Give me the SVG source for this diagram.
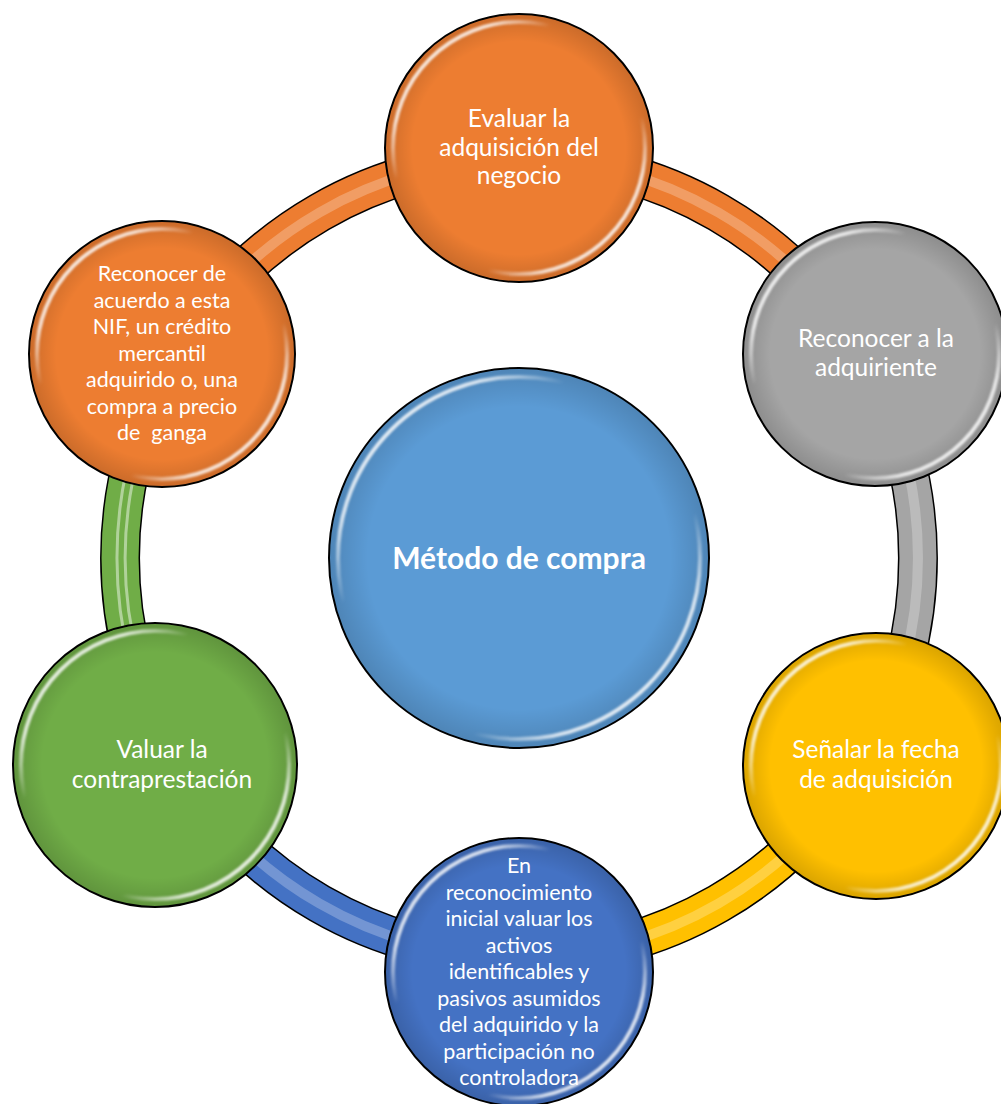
<svg xmlns="http://www.w3.org/2000/svg" width="1001" height="1104" viewBox="0 0 1001 1104">
<defs>
<linearGradient id="gloss" x1="0" y1="0" x2="1" y2="1">
<stop offset="0" stop-color="#fff" stop-opacity="0.95"/>
<stop offset="0.2" stop-color="#fff" stop-opacity="0.75"/>
<stop offset="0.32" stop-color="#fff" stop-opacity="0"/>
<stop offset="0.68" stop-color="#fff" stop-opacity="0"/>
<stop offset="0.8" stop-color="#fff" stop-opacity="0.75"/>
<stop offset="1" stop-color="#fff" stop-opacity="0.95"/>
</linearGradient>
<radialGradient id="edge" cx="0.5" cy="0.5" r="0.5">
<stop offset="0.8" stop-color="#000" stop-opacity="0"/>
<stop offset="1" stop-color="#000" stop-opacity="0.14"/>
</radialGradient>
<filter id="soft" x="-10%" y="-10%" width="120%" height="120%">
<feGaussianBlur stdDeviation="1.2"/>
</filter>
</defs>
<style>
.out{fill:none;stroke:#000;stroke-width:40}
.tube{fill:none;stroke-width:37}
.hi{fill:none;stroke:#fff;stroke-opacity:0.25;stroke-width:10}
.hi2{fill:none;stroke:#fff;stroke-opacity:0.45;stroke-width:3}
.disc{stroke:#000;stroke-width:2}
.edge{fill:url(#edge)}
.gl{fill:none;stroke:url(#gloss);stroke-width:4;filter:url(#soft)}
.t{font-family:Lato,"Open Sans",sans-serif;font-size:24.5px;fill:#fff;text-anchor:middle}
.s{font-size:21.5px}
.tc{font-family:Lato,"Open Sans",sans-serif;font-size:30px;font-weight:bold;fill:#fff;text-anchor:middle}
</style>
<rect width="1001" height="1104" fill="#fff"/>
<g id="connectors">
<path class="out" d="M519,159 A399,399 0 0 1 864.5,358.5"/>
<path class="tube" stroke="#ED7D31" d="M519,159 A399,399 0 0 1 864.5,358.5"/>
<path class="hi" d="M519,159 A399,399 0 0 1 864.5,358.5"/>
<path class="out" d="M864.5,358.5 A399,399 0 0 1 864.5,757.5"/>
<path class="tube" stroke="#A5A5A5" d="M864.5,358.5 A399,399 0 0 1 864.5,757.5"/>
<path class="hi" d="M864.5,358.5 A399,399 0 0 1 864.5,757.5"/>
<path class="out" d="M864.5,757.5 A399,399 0 0 1 519,957"/>
<path class="tube" stroke="#FFC000" d="M864.5,757.5 A399,399 0 0 1 519,957"/>
<path class="hi" d="M864.5,757.5 A399,399 0 0 1 519,957"/>
<path class="out" d="M519,957 A399,399 0 0 1 173.5,757.5"/>
<path class="tube" stroke="#4472C4" d="M519,957 A399,399 0 0 1 173.5,757.5"/>
<path class="hi" d="M519,957 A399,399 0 0 1 173.5,757.5"/>
<path class="out" d="M173.5,757.5 A399,399 0 0 1 173.5,358.5"/>
<path class="tube" stroke="#70AD47" d="M173.5,757.5 A399,399 0 0 1 173.5,358.5"/>
<path class="hi2" d="M173.5,757.5 A405,405 0 0 1 173.5,358.5" transform="translate(-4,0)"/>
<path class="hi2" d="M173.5,757.5 A393,393 0 0 1 173.5,358.5" transform="translate(6,0)"/>
<path class="out" d="M173.5,358.5 A399,399 0 0 1 519,159"/>
<path class="tube" stroke="#ED7D31" d="M173.5,358.5 A399,399 0 0 1 519,159"/>
<path class="hi" d="M173.5,358.5 A399,399 0 0 1 519,159"/>
</g>
<g id="node-center">
<circle class="disc" cx="519" cy="558" r="190" fill="#5B9BD5"/>
<circle class="edge" cx="519" cy="558" r="189"/>
<circle class="gl" cx="519" cy="558" r="181"/>
<text class="tc" x="519" y="569">Método de compra</text>
</g>
<g id="node-evaluar">
<circle class="disc" cx="519" cy="148" r="134" fill="#ED7D31"/>
<circle class="edge" cx="519" cy="148" r="133"/>
<circle class="gl" cx="519" cy="148" r="126"/>
<text class="t" x="519" y="127">Evaluar la</text>
<text class="t" x="519" y="155.5">adquisición del</text>
<text class="t" x="519" y="184">negocio</text>
</g>
<g id="node-adquiriente">
<circle class="disc" cx="875" cy="354" r="132" fill="#A5A5A5"/>
<circle class="edge" cx="875" cy="354" r="131"/>
<circle class="gl" cx="875" cy="354" r="124"/>
<text class="t" x="876" y="347">Reconocer a la</text>
<text class="t" x="876" y="376">adquiriente</text>
</g>
<g id="node-fecha">
<circle class="disc" cx="876" cy="766" r="133" fill="#FFC000"/>
<circle class="edge" cx="876" cy="766" r="132"/>
<circle class="gl" cx="876" cy="766" r="125"/>
<text class="t" x="876" y="758">Señalar la fecha</text>
<text class="t" x="876" y="788">de adquisición</text>
</g>
<g id="node-reconocimiento">
<circle class="disc" cx="519" cy="972" r="134" fill="#4472C4"/>
<circle class="edge" cx="519" cy="972" r="133"/>
<circle class="gl" cx="519" cy="972" r="126"/>
<text class="t s" x="519" y="873">En</text>
<text class="t s" x="519" y="899.5">reconocimiento</text>
<text class="t s" x="519" y="926">inicial valuar los</text>
<text class="t s" x="519" y="952.5">activos</text>
<text class="t s" x="519" y="979">identificables y</text>
<text class="t s" x="519" y="1005.5">pasivos asumidos</text>
<text class="t s" x="519" y="1032">del adquirido y la</text>
<text class="t s" x="519" y="1058.5">participación no</text>
<text class="t s" x="519" y="1085">controladora</text>
</g>
<g id="node-contraprestacion">
<circle class="disc" cx="155" cy="765" r="142" fill="#70AD47"/>
<circle class="edge" cx="155" cy="765" r="141"/>
<circle class="gl" cx="155" cy="765" r="134"/>
<text class="t" x="162" y="758">Valuar la</text>
<text class="t" x="162" y="788">contraprestación</text>
</g>
<g id="node-credito">
<circle class="disc" cx="162" cy="354" r="133" fill="#ED7D31"/>
<circle class="edge" cx="162" cy="354" r="132"/>
<circle class="gl" cx="162" cy="354" r="125"/>
<text class="t s" x="162" y="281">Reconocer de</text>
<text class="t s" x="162" y="307.5">acuerdo a esta</text>
<text class="t s" x="162" y="334">NIF, un crédito</text>
<text class="t s" x="162" y="360.5">mercantil</text>
<text class="t s" x="162" y="387">adquirido o, una</text>
<text class="t s" x="162" y="413.5">compra a precio</text>
<text class="t s" x="162" y="440" xml:space="preserve">de  ganga</text>
</g>
</svg>
